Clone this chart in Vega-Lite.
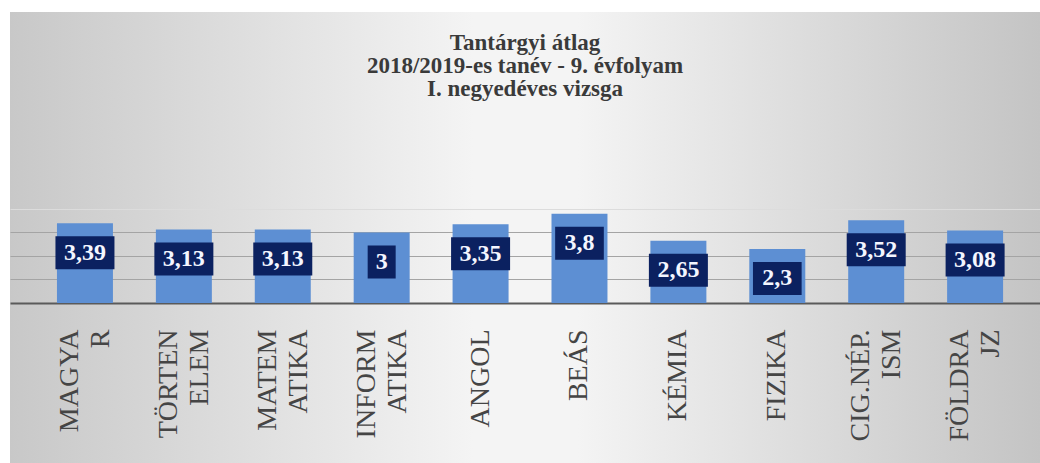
{
  "$schema": "https://vega.github.io/schema/vega-lite/v6.json",
  "autosize": "none",
  "width": 1030,
  "height": 451,
  "padding": {"left": 10, "top": 12, "right": 0, "bottom": 0},
  "background": "#ffffff",
  "config": {
    "locale": {"number": {"decimal": ",", "thousands": " ", "grouping": [3], "currency": ["", " Ft"]}},
    "view": {
      "stroke": null,
      "fill": {
        "gradient": "linear", "x1": 0, "x2": 1, "y1": 0, "y2": 0,
        "stops": [
          {"offset": 0, "color": "#c8c8c8"},
          {"offset": 0.45, "color": "#f4f4f4"},
          {"offset": 0.55, "color": "#f4f4f4"},
          {"offset": 1, "color": "#c4c4c4"}
        ]
      }
    }
  },
  "title": {
    "text": ["Tantárgyi átlag", "2018/2019-es tanév - 9. évfolyam", "I. negyedéves vizsga"],
    "font": "Liberation Serif",
    "fontSize": 23,
    "fontWeight": "bold",
    "lineHeight": 23,
    "color": "#3a3a3a",
    "anchor": "middle",
    "frame": "group",
    "offset": -89
  },
  "data": {
    "values": [
      {"targy": "MAGYA R", "atlag": 3.39},
      {"targy": "TÖRTEN ELEM", "atlag": 3.13},
      {"targy": "MATEM ATIKA", "atlag": 3.13},
      {"targy": "INFORM ATIKA", "atlag": 3},
      {"targy": "ANGOL", "atlag": 3.35},
      {"targy": "BEÁS", "atlag": 3.8},
      {"targy": "KÉMIA", "atlag": 2.65},
      {"targy": "FIZIKA", "atlag": 2.3},
      {"targy": "CIG.NÉP. ISM", "atlag": 3.52},
      {"targy": "FÖLDRA JZ", "atlag": 3.08}
    ]
  },
  "transform": [{"calculate": "length(toString(datum.atlag))", "as": "hossz"}],
  "encoding": {
    "x": {
      "field": "targy",
      "type": "nominal",
      "sort": null,
      "scale": {"paddingInner": 0.434, "paddingOuter": 0.424, "align": 0.56},
      "axis": {
        "title": null,
        "orient": "bottom",
        "offset": -160,
        "labelAngle": -90,
        "labelAlign": "right",
        "labelBaseline": "middle",
        "labelExpr": "split(datum.value, ' ')",
        "labelOffset": {"condition": {"test": "indexof(datum.value, ' ') >= 0", "value": -15}, "value": 0},
        "labelFont": "Liberation Serif",
        "labelFontSize": 28,
        "labelLineHeight": 31,
        "labelColor": "#454545",
        "labelPadding": 26,
        "labelLimit": 400,
        "ticks": false,
        "domainColor": "#5a5a5a",
        "domainWidth": 2
      }
    }
  },
  "layer": [
    {
      "mark": {"type": "bar", "color": "#5d8fd3"},
      "encoding": {
        "y": {
          "field": "atlag",
          "type": "quantitative",
          "scale": {"domain": [-6.81, 12.38], "nice": false, "zero": false},
          "axis": {
            "title": null,
            "labels": false,
            "ticks": false,
            "domain": false,
            "values": [1, 2, 3, 4],
            "grid": true,
            "gridColor": {"condition": {"test": "datum.value === 4", "value": "#dcdcdc"}, "value": "#a4a4a4"},
            "gridWidth": 1
          }
        },
        "y2": {"datum": 0}
      }
    },
    {
      "mark": {"type": "bar", "color": "#0b2160", "yOffset": 13, "y2Offset": 46},
      "encoding": {
        "y": {"field": "atlag", "type": "quantitative"},
        "y2": {"field": "atlag"},
        "size": {"field": "hossz", "type": "quantitative", "scale": {"domain": [1, 4], "range": [28, 59]}, "legend": null}
      }
    },
    {
      "mark": {"type": "text", "font": "Liberation Serif", "fontWeight": "bold", "fontSize": 24, "color": "#f4f6ff", "baseline": "middle", "yOffset": 29.5},
      "encoding": {
        "y": {"field": "atlag", "type": "quantitative"},
        "text": {"field": "atlag", "type": "quantitative", "format": "~g"}
      }
    }
  ]
}
